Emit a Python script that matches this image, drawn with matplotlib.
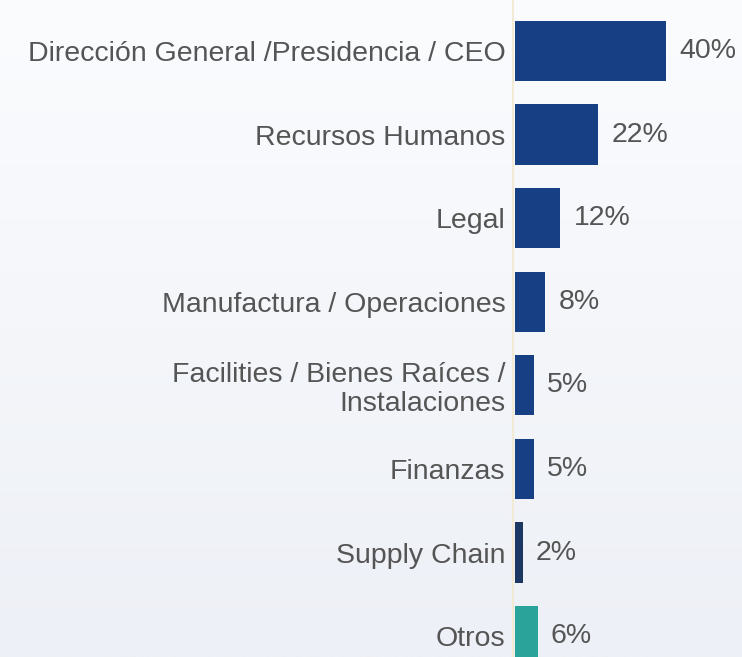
import matplotlib
matplotlib.use("Agg")
import matplotlib.pyplot as plt
import numpy as np
from matplotlib.colors import LinearSegmentedColormap

categories = ["Dirección General /Presidencia / CEO", "Recursos Humanos", "Legal",
              "Manufactura / Operaciones", "Facilities / Bienes Raíces /\nInstalaciones",
              "Finanzas", "Supply Chain", "Otros"]
values = [40, 22, 12, 8, 5, 5, 2, 6]
value_labels = ["40%", "22%", "12%", "8%", "5%", "5%", "2%", "6%"]
colors = ["#173f83", "#173f83", "#173f83", "#173f83", "#173f83", "#173f83", "#1d3763", "#2aa39b"]

plt.rcParams['font.family'] = ['Liberation Sans', 'DejaVu Sans']

W, H = 742, 657
fig = plt.figure(figsize=(W/100, H/100), dpi=100)

# background gradient
bg = fig.add_axes([0, 0, 1, 1], zorder=0)
grad = np.linspace(0, 1, 256).reshape(-1, 1)
cmap = LinearSegmentedColormap.from_list("bg", ["#fbfcfe", "#edf0f6"])
bg.imshow(grad, aspect='auto', cmap=cmap, extent=[0, 1, 0, 1], origin='upper')
bg.axis('off')

# faint vertical separator
fig.add_artist(plt.Line2D([513/W, 513/W], [0, 1], color="#f3ead6", lw=1.5, zorder=1))

ax = fig.add_axes([515/W, 0, (W-515)/W, 1], zorder=2)
ax.patch.set_alpha(0)
pos = np.arange(len(categories))
ax.barh(pos, values, height=0.72, color=colors)
ax.set_xlim(0, 60)
ax.set_ylim(7.25, -0.61)
ax.set_yticks(pos)
ax.set_yticklabels(categories, fontsize=20.5, color="#555555", linespacing=1.15)
ax.tick_params(axis='y', length=0, pad=7)
ax.set_xticks([])
for s in ax.spines.values():
    s.set_visible(False)
for p, v, t in zip(pos, values, value_labels):
    ax.text(v + 3.5, p, t, va='center', ha='left', fontsize=20.5, color="#555555")

fig.savefig("out.png", dpi=100)
